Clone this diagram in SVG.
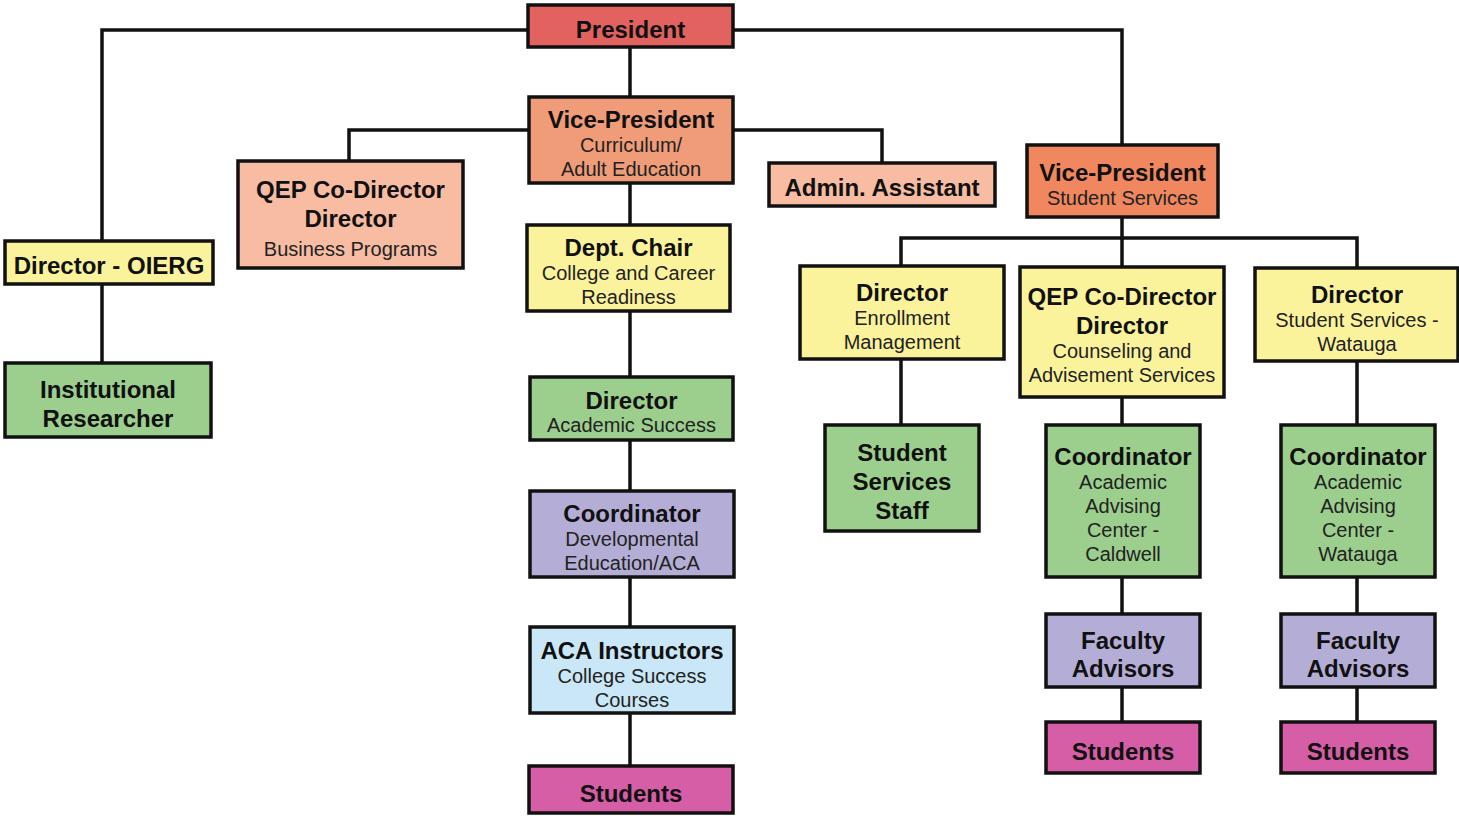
<svg xmlns="http://www.w3.org/2000/svg" width="1459" height="816" viewBox="0 0 1459 816">
<style>
.n{stroke:#111;stroke-width:3.5}
.c{fill:none;stroke:#111;stroke-width:3.5}
.t{font-family:"Liberation Sans",Arial,sans-serif;font-weight:bold;font-size:24px;fill:#111;text-anchor:middle}
.s{font-family:"Liberation Sans",Arial,sans-serif;font-size:20px;fill:#222;text-anchor:middle}
.red{fill:#e2625f}.or{fill:#f09c79}.or2{fill:#f0875e}.pe{fill:#f8bca2}.ye{fill:#fbf39c}.gr{fill:#9ccf8e}.pu{fill:#b4aed6}.bl{fill:#cae7f7}.ma{fill:#d65ea6}
</style>
<rect width="1459" height="816" fill="#fff"/>
<g id="connectors">
<path class="c" d="M528 30H102V241M102 284V363"/>
<path class="c" d="M733 30H1122V145M1122 217V238"/>
<path class="c" d="M630 47V97M630 183V225M630 311V377M630 440V491M630 577V627M630 713V766"/>
<path class="c" d="M529 130H349V161M733 130H882V163"/>
<path class="c" d="M901 266V238H1357V268M1122 238V267"/>
<path class="c" d="M901 359V425M1122 397V425M1357 361V425M1122 577V614M1357 577V614M1122 687V722M1357 687V722"/>
</g>
<g id="president"><rect class="n red" x="528" y="5" width="205" height="42"/><text class="t" x="630.5" y="38">President</text></g>
<g id="vp-curriculum"><rect class="n or" x="529" y="97" width="204" height="86"/><text class="t" x="631" y="128">Vice-President</text><text class="s" x="631" y="152">Curriculum/</text><text class="s" x="631" y="176">Adult Education</text></g>
<g id="qep-business"><rect class="n pe" x="238" y="161" width="225" height="107"/><text class="t" x="350.5" y="198">QEP Co-Director</text><text class="t" x="350.5" y="227">Director</text><text class="s" x="350.5" y="256">Business Programs</text></g>
<g id="admin-assistant"><rect class="n pe" x="769" y="163" width="226" height="43"/><text class="t" x="882" y="196">Admin. Assistant</text></g>
<g id="director-oierg"><rect class="n ye" x="5" y="241" width="208" height="43"/><text class="t" x="109" y="274">Director - OIERG</text></g>
<g id="institutional-researcher"><rect class="n gr" x="5" y="363" width="206" height="74"/><text class="t" x="108" y="398">Institutional</text><text class="t" x="108" y="427">Researcher</text></g>
<g id="dept-chair"><rect class="n ye" x="527" y="225" width="203" height="86"/><text class="t" x="628.5" y="256">Dept. Chair</text><text class="s" x="628.5" y="280">College and Career</text><text class="s" x="628.5" y="304">Readiness</text></g>
<g id="director-academic"><rect class="n gr" x="530" y="377" width="203" height="63"/><text class="t" x="631.5" y="409">Director</text><text class="s" x="631.5" y="432">Academic Success</text></g>
<g id="coordinator-dev"><rect class="n pu" x="530" y="491" width="204" height="86"/><text class="t" x="632" y="522">Coordinator</text><text class="s" x="632" y="546">Developmental</text><text class="s" x="632" y="570">Education/ACA</text></g>
<g id="aca-instructors"><rect class="n bl" x="530" y="627" width="204" height="86"/><text class="t" x="632" y="659">ACA Instructors</text><text class="s" x="632" y="683">College Success</text><text class="s" x="632" y="707">Courses</text></g>
<g id="students-1"><rect class="n ma" x="529" y="766" width="204" height="47"/><text class="t" x="631" y="802">Students</text></g>
<g id="vp-student-services"><rect class="n or2" x="1027" y="145" width="191" height="72"/><text class="t" x="1122.5" y="181">Vice-President</text><text class="s" x="1122.5" y="205">Student Services</text></g>
<g id="director-enrollment"><rect class="n ye" x="800" y="266" width="204" height="93"/><text class="t" x="902" y="301">Director</text><text class="s" x="902" y="325">Enrollment</text><text class="s" x="902" y="349">Management</text></g>
<g id="qep-counseling"><rect class="n ye" x="1020" y="267" width="204" height="130"/><text class="t" x="1122" y="305">QEP Co-Director</text><text class="t" x="1122" y="334">Director</text><text class="s" x="1122" y="358">Counseling and</text><text class="s" x="1122" y="382">Advisement Services</text></g>
<g id="director-ss-watauga"><rect class="n ye" x="1255" y="268" width="203" height="93"/><text class="t" x="1357" y="303">Director</text><text class="s" x="1357" y="327">Student Services -</text><text class="s" x="1357" y="351">Watauga</text></g>
<g id="student-services-staff"><rect class="n gr" x="825" y="425" width="154" height="106"/><text class="t" x="902" y="461">Student</text><text class="t" x="902" y="490">Services</text><text class="t" x="902" y="519">Staff</text></g>
<g id="coordinator-caldwell"><rect class="n gr" x="1046" y="425" width="154" height="152"/><text class="t" x="1123" y="465">Coordinator</text><text class="s" x="1123" y="489">Academic</text><text class="s" x="1123" y="513">Advising</text><text class="s" x="1123" y="537">Center -</text><text class="s" x="1123" y="561">Caldwell</text></g>
<g id="coordinator-watauga"><rect class="n gr" x="1281" y="425" width="154" height="152"/><text class="t" x="1358" y="465">Coordinator</text><text class="s" x="1358" y="489">Academic</text><text class="s" x="1358" y="513">Advising</text><text class="s" x="1358" y="537">Center -</text><text class="s" x="1358" y="561">Watauga</text></g>
<g id="faculty-advisors-1"><rect class="n pu" x="1046" y="614" width="154" height="73"/><text class="t" x="1123" y="649">Faculty</text><text class="t" x="1123" y="677">Advisors</text></g>
<g id="faculty-advisors-2"><rect class="n pu" x="1281" y="614" width="154" height="73"/><text class="t" x="1358" y="649">Faculty</text><text class="t" x="1358" y="677">Advisors</text></g>
<g id="students-2"><rect class="n ma" x="1046" y="722" width="154" height="51"/><text class="t" x="1123" y="760">Students</text></g>
<g id="students-3"><rect class="n ma" x="1281" y="722" width="154" height="51"/><text class="t" x="1358" y="760">Students</text></g>
</svg>
